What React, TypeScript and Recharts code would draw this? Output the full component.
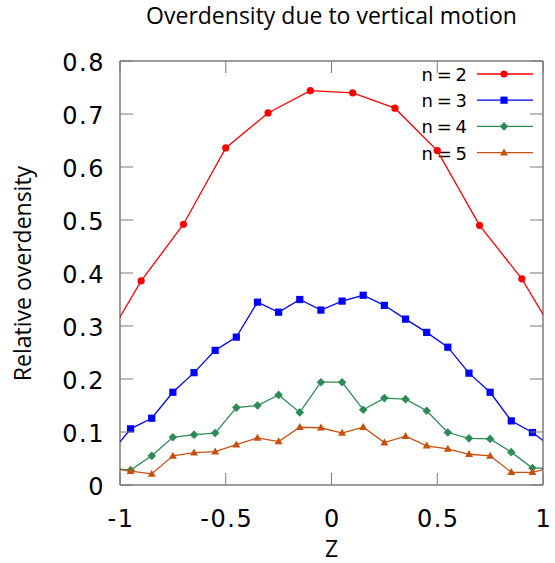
import React from 'react';
import { LineChart, Line, XAxis, YAxis } from 'recharts';

// z positions (n = 2 is sampled every 0.2, the others every 0.1)
const Z_COARSE = [-1.1, -0.9, -0.7, -0.5, -0.3, -0.1, 0.1, 0.3, 0.5, 0.7, 0.9, 1.1];
const Z_FINE = [
  -1.05, -0.95, -0.85, -0.75, -0.65, -0.55, -0.45, -0.35, -0.25, -0.15, -0.05,
  0.05, 0.15, 0.25, 0.35, 0.45, 0.55, 0.65, 0.75, 0.85, 0.95, 1.05,
];

const N2 = [0.249, 0.385, 0.492, 0.636, 0.702, 0.744, 0.74, 0.711, 0.631, 0.49, 0.389, 0.255];
const N3 = [
  0.056, 0.106, 0.126, 0.175, 0.212, 0.254, 0.279, 0.345, 0.326, 0.35, 0.33,
  0.347, 0.358, 0.339, 0.313, 0.288, 0.26, 0.211, 0.175, 0.121, 0.099, 0.069,
];
const N4 = [
  0.032, 0.028, 0.055, 0.09, 0.095, 0.098, 0.146, 0.15, 0.17, 0.137, 0.194,
  0.194, 0.142, 0.164, 0.162, 0.14, 0.099, 0.088, 0.087, 0.062, 0.032, 0.032,
];
const N5 = [
  0.032, 0.026, 0.021, 0.055, 0.061, 0.063, 0.076, 0.089, 0.082, 0.109, 0.108,
  0.098, 0.109, 0.08, 0.092, 0.074, 0.068, 0.058, 0.055, 0.024, 0.024, 0.034,
];

const X_TICKS = [-1, -0.5, 0, 0.5, 1];
const Y_TICKS = [0, 0.1, 0.2, 0.3, 0.4, 0.5, 0.6, 0.7, 0.8];

const toRows = (zs: number[], vs: number[]) => zs.map((z, i) => ({ z, v: vs[i] }));

type Shape = 'circle' | 'square' | 'diamond' | 'triangle';

const SERIES: { name: string; color: string; shape: Shape; rows: { z: number; v: number }[] }[] = [
  { name: 'n = 2', color: '#ff0000', shape: 'circle', rows: toRows(Z_COARSE, N2) },
  { name: 'n = 3', color: '#0000ff', shape: 'square', rows: toRows(Z_FINE, N3) },
  { name: 'n = 4', color: '#2e8b57', shape: 'diamond', rows: toRows(Z_FINE, N4) },
  { name: 'n = 5', color: '#c8500f', shape: 'triangle', rows: toRows(Z_FINE, N5) },
];

const marker = (shape: Shape, cx: number, cy: number, color: string, key?: string) => {
  if (shape === 'circle') return <circle key={key} cx={cx} cy={cy} r={3.6} fill={color} />;
  if (shape === 'square')
    return <rect key={key} x={cx - 3.6} y={cy - 3.6} width={7.2} height={7.2} fill={color} />;
  if (shape === 'diamond')
    return (
      <path key={key} d={`M${cx},${cy - 4.3}L${cx + 4.3},${cy}L${cx},${cy + 4.3}L${cx - 4.3},${cy}Z`} fill={color} />
    );
  return <path key={key} d={`M${cx},${cy - 4.2}L${cx + 4},${cy + 2.8}L${cx - 4},${cy + 2.8}Z`} fill={color} />;
};

const BORDER = '#3a3a3a';
const TICK = '#7a7a7a';
const TICK_FONT = { fontFamily: 'DejaVu Sans', fontSize: 24, letterSpacing: 1.5, fill: '#000' };
const LABEL_FONT = { fontFamily: 'Open Sans', fontSize: 23, fill: '#000' };

const fmt = (v: number) => String(Math.round(v * 10) / 10);

const LeftTick = (p: any) => (
  <g>
    <line x1={p.x} x2={p.x + 13} y1={p.y} y2={p.y} stroke={TICK} />
    <text x={p.x - 15} y={p.y + 10} textAnchor="end" {...TICK_FONT}>
      {fmt(p.payload.value)}
    </text>
  </g>
);
const RightTick = (p: any) => <line x1={p.x} x2={p.x - 13} y1={p.y} y2={p.y} stroke={TICK} />;
const BottomTick = (p: any) => (
  <g>
    <line x1={p.x} x2={p.x} y1={p.y} y2={p.y - 12} stroke={TICK} />
    <text x={p.x + 1} y={p.y + 42} textAnchor="middle" {...TICK_FONT}>
      {fmt(p.payload.value)}
    </text>
  </g>
);
const TopTick = (p: any) => <line x1={p.x} x2={p.x} y1={p.y} y2={p.y + 12} stroke={TICK} />;

export default function App() {
  return (
    <div style={{ position: 'absolute', left: 0, top: 0, width: 555, height: 563, background: '#fff' }}>
      <LineChart width={555} height={563} margin={{ top: 60, right: 11, bottom: 38, left: 60 }}>
        <XAxis
          xAxisId="b" dataKey="z" type="number" domain={[-1, 1]} ticks={X_TICKS} allowDataOverflow
          height={40} tickSize={0} tickMargin={0} interval={0} stroke={BORDER} tick={BottomTick}
        />
        <XAxis
          xAxisId="t" orientation="top" dataKey="z" type="number" domain={[-1, 1]} ticks={X_TICKS}
          allowDataOverflow height={1} tickSize={0} tickMargin={0} interval={0} stroke={BORDER} tick={TopTick}
        />
        <YAxis
          yAxisId="l" type="number" domain={[0, 0.8]} ticks={Y_TICKS} allowDataOverflow
          width={60} tickSize={0} tickMargin={0} interval={0} stroke={BORDER} tick={LeftTick}
        />
        <YAxis
          yAxisId="r" orientation="right" type="number" domain={[0, 0.8]} ticks={Y_TICKS} allowDataOverflow
          width={1} tickSize={0} tickMargin={0} interval={0} stroke={BORDER} tick={RightTick}
        />
        {SERIES.map((s) => (
          <Line
            key={s.name}
            xAxisId="b"
            yAxisId="l"
            data={s.rows}
            dataKey="v"
            type="linear"
            stroke={s.color}
            strokeWidth={1.3}
            isAnimationActive={false}
            dot={(d: any) => marker(s.shape, d.cx, d.cy, s.color, `${s.name}-${d.index}`)}
            activeDot={false}
          />
        ))}
        <text x={331.5} y={24} textAnchor="middle" {...LABEL_FONT}>
          Overdensity due to vertical motion
        </text>
        <text x={331.5} y={557} textAnchor="middle" {...LABEL_FONT}>
          Z
        </text>
        <text transform="rotate(-90)" x={-273.5} y={31} textAnchor="middle" {...LABEL_FONT}>
          Relative overdensity
        </text>
        <g>
          {SERIES.map((s, i) => {
            const cy = 74 + i * 26.2;
            return (
              <g key={s.name}>
                <text
                  x={466} y={cy + 7} textAnchor="end" fontFamily="DejaVu Sans" fontSize={18}
                  letterSpacing={-1} fill="#000"
                >
                  {s.name}
                </text>
                <line x1={477} x2={533} y1={cy} y2={cy} stroke={s.color} strokeWidth={1.3} />
                {marker(s.shape, 504, cy, s.color)}
              </g>
            );
          })}
        </g>
      </LineChart>
    </div>
  );
}
